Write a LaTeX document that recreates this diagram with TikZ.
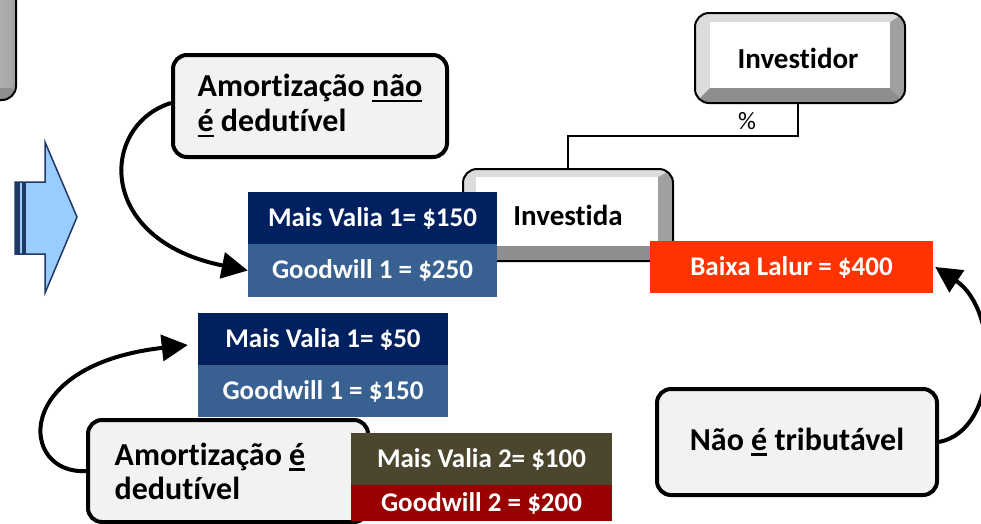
\documentclass[tikz,border=0pt]{standalone}
\usepackage{fontspec}
\setmainfont{Carlito}[Ligatures={NoCommon}]
\usetikzlibrary{arrows.meta,calc}
\definecolor{navyc}{HTML}{002060}
\definecolor{gwblue}{HTML}{386192}
\definecolor{olivec}{HTML}{4B462D}
\definecolor{darkredc}{HTML}{990000}
\definecolor{orangec}{HTML}{FF3300}
\definecolor{calloutgray}{HTML}{F2F2F2}
\definecolor{arrowfill}{HTML}{99CCFF}
\definecolor{arrowdark}{HTML}{1F3864}
\definecolor{bevlight}{HTML}{DCDCDC}
\definecolor{bevright}{HTML}{A0A0A0}
\definecolor{bevbottom}{HTML}{8E8E8E}
\newcommand\myul[1]{\setbox0\hbox{#1}\rlap{\rule[-5.5pt]{\wd0}{2.5pt}}\box0\relax}
\begin{document}
\begin{tikzpicture}[x=1pt,y=-1pt,
  callout/.style={draw=black, line width=4pt, fill=calloutgray, rounded corners=14pt,
    font=\bfseries\fontsize{32}{35}\selectfont, align=left, inner sep=0pt},
  databox/.style={fill=#1, text=white, font=\bfseries\fontsize{27}{30}\selectfont, inner sep=0pt},
  bevtext/.style={font=\bfseries\fontsize{29}{33}\selectfont, inner sep=0pt},
  curvearrow/.style={line width=4pt, -{Triangle[length=26pt,width=26pt]}}]
\useasboundingbox (0,0) rectangle (981,523);

% left partial box
\begin{scope}
\clip[rounded corners=14pt] (-60,-40) rectangle (16,100);
\fill[bevright] (-60,-40) rectangle (16,100);
\shade[left color=bevlight, right color=gray!70] (-60,-40) rectangle (12,88);
\fill[bevbottom] (-60,88) -- (12,88) -- (16,100) -- (-60,100) -- cycle;
\end{scope}
\draw[line width=2pt, rounded corners=14pt] (-60,-40) rectangle (16,100);

% block arrow
\filldraw[fill=arrowfill, draw=arrowdark, line width=1.5pt, line join=miter]
  (15,182) -- (45,182) -- (45,142) -- (77,217) -- (45,293) -- (45,254) -- (15,254) -- cycle;
\fill[arrowdark] (15,182) rectangle (20,254);
\fill[arrowdark] (22,182) rectangle (26,254);

% callouts
\node[callout, minimum width=274pt, minimum height=102pt] (c1) at (310,106)
  {Amortização \myul{não}\\\myul{é} dedutível};
\node[callout, minimum width=280pt, minimum height=102pt,
  font=\bfseries\fontsize{32}{34}\selectfont] (c2) at (228,471)
  {Amortização \myul{é}\hspace*{36pt}\\dedutível};
\node[callout, minimum width=280pt, minimum height=106pt] (nt) at (797,442)
  {Não \myul{é} tributável};

% Investidor
\begin{scope}
\clip[rounded corners=14pt] (695,13) rectangle (905,103);
\fill[bevlight] (695,13) rectangle (905,103);
\fill[bevright] (890,22) -- (905,13) -- (905,103) -- (890,88) -- cycle;
\fill[bevbottom] (710,88) -- (890,88) -- (905,103) -- (695,103) -- cycle;
\fill[white] (710,22) rectangle (890,88);
\end{scope}
\draw[line width=2pt, rounded corners=14pt] (695,13) rectangle (905,103);
\node[bevtext, minimum width=210pt, minimum height=90pt] (investidor) at (798,58) {Investidor};

% Investida
\begin{scope}
\clip[rounded corners=14pt] (463,169) rectangle (673,261);
\fill[bevlight] (463,169) rectangle (673,261);
\fill[bevright] (658,177) -- (673,169) -- (673,261) -- (658,246) -- cycle;
\fill[bevbottom] (476,246) -- (658,246) -- (673,261) -- (463,261) -- cycle;
\fill[white] (476,177) rectangle (658,246);
\end{scope}
\draw[line width=2pt, rounded corners=14pt] (463,169) rectangle (673,261);
\node[bevtext, minimum width=210pt, minimum height=92pt] (investida) at (568,215) {Investida};

% connector
\draw[line width=2pt] (investidor.south) -- ++(0,33) -| (investida.north);
\node[font=\fontsize{25}{28}\selectfont, inner sep=0pt] (pct) at (747,121) {\%};

% data boxes
\node[databox=navyc, minimum width=249pt, minimum height=52pt] (mv150) at (372.5,218) {Mais Valia 1= \$150};
\node[databox=gwblue, minimum width=249pt, minimum height=53pt] (gw250) at (372.5,270.5) {Goodwill 1 = \$250};
\node[databox=navyc, minimum width=250pt, minimum height=52pt] (mv50) at (323,339) {Mais Valia 1= \$50};
\node[databox=gwblue, minimum width=250pt, minimum height=52pt] (gw150) at (323,391) {Goodwill 1 = \$150};
\node[databox=olivec, minimum width=261pt, minimum height=52pt] (mv100) at (481.5,459) {Mais Valia 2= \$100};
\node[databox=darkredc, minimum width=261pt, minimum height=36pt] (gw200) at (481.5,503) {Goodwill 2 = \$200};
\node[databox=orangec, minimum width=283pt, minimum height=52pt] (bl) at (791.5,267) {Baixa Lalur = \$400};

% curved arrows
\draw[curvearrow] ([yshift=3pt]c1.west) .. controls (100,125) and (95,240) .. (gw250.west);
\draw[curvearrow] (c2.west) .. controls (20,475) and (10,365) .. ([xshift=-10pt,yshift=-6pt]mv50.west);
\draw[curvearrow] (nt.east) .. controls (1000,430) and (1000,310) .. ([xshift=2pt]bl.east);
\end{tikzpicture}
\end{document}
